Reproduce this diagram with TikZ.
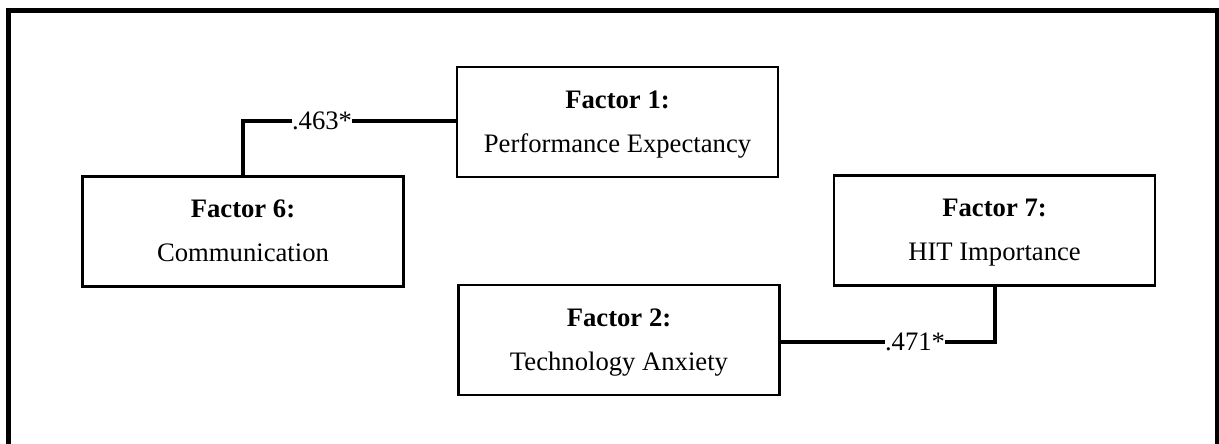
\documentclass[tikz,border=0pt]{standalone}
\usepackage{fontspec}
\setmainfont{Liberation Serif}
\usetikzlibrary{calc}
\begin{document}
\begin{tikzpicture}[x=0.75pt,y=-0.75pt,
  factorbox/.style={draw=black,line width=1.8pt,minimum width=240.75pt,minimum height=82.5pt,inner sep=0pt,outer sep=0pt},
  titletext/.style={anchor=base,font=\fontsize{20}{20}\selectfont\bfseries,inner sep=0pt},
  desctext/.style={anchor=base,font=\fontsize{20}{20}\selectfont,inner sep=0pt},
  coeff/.style={font=\fontsize{20}{20}\selectfont,inner sep=0pt,fill=white},
  link/.style={line width=3pt}
]
\clip (0,0) rectangle (1219,443);
\fill[white] (0,0) rectangle (1219,443);
\draw[line width=3.75pt] (8.7,480) -- (8.7,10) -- (1217,10) -- (1217,480);

\node[factorbox] (f1) at (617.5,122) {};
\node[factorbox] (f6) at (243,231.5) {};
\node[factorbox] (f7) at (994.5,230.5) {};
\node[factorbox] (f2) at (619,340) {};

\node[titletext] (f1t) at ($(f1.north)+(0,41)$) {Factor 1:};
\node[desctext]  (f1d) at ($(f1.north)+(0,85)$) {Performance Expectancy};
\node[titletext] (f6t) at ($(f6.north)+(0,41)$) {Factor 6:};
\node[desctext]  (f6d) at ($(f6.north)+(0,85)$) {Communication};
\node[titletext] (f7t) at ($(f7.north)+(0,41)$) {Factor 7:};
\node[desctext]  (f7d) at ($(f7.north)+(0,85)$) {HIT Importance};
\node[titletext] (f2t) at ($(f2.north)+(0,41)$) {Factor 2:};
\node[desctext]  (f2d) at ($(f2.north)+(0,85)$) {Technology Anxiety};

\node[coeff] (c1) at (322,120.5) {.463*};
\draw[link] (f6.north) |- (c1.west);
\draw[link] (c1.east) -- (c1.east -| f1.west);

\node[coeff] (c2) at (915,342) {.471*};
\draw[link] (f7.south) |- (c2.east);
\draw[link] (c2.west) -- (c2.west -| f2.east);
\end{tikzpicture}
\end{document}
